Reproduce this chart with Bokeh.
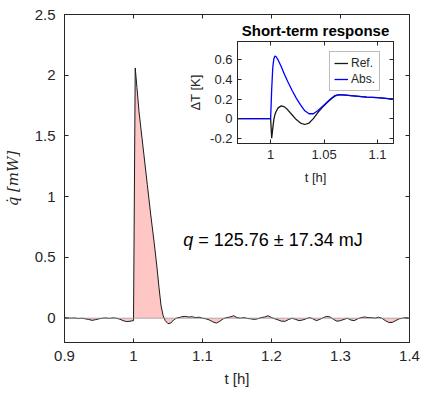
from bokeh.plotting import figure
from bokeh.models import (Range1d, LinearAxis, FixedTicker, Span, Label, Legend,
                          LegendItem, Column)
from bokeh.embed import file_html
from bokeh.resources import INLINE

# ---- main series: heat flow q_dot [mW] vs t [h]
t_main = [0.900, 0.905, 0.910, 0.915, 0.920, 0.925, 0.930, 0.935, 0.940, 0.945,
          0.950, 0.955, 0.960, 0.965, 0.970, 0.975, 0.980, 0.985, 0.990, 0.995,
          0.9995, 1.000, 1.0025, 1.005, 1.008, 1.011, 1.015, 1.020, 1.025, 1.030,
          1.034, 1.037, 1.040, 1.043, 1.046, 1.050, 1.054, 1.058, 1.062, 1.066,
          1.070, 1.075, 1.080, 1.085, 1.090, 1.095, 1.100, 1.105, 1.110, 1.115,
          1.120, 1.125, 1.130, 1.135, 1.140, 1.145, 1.150, 1.155, 1.160, 1.165,
          1.170, 1.175, 1.180, 1.185, 1.190, 1.195, 1.200, 1.205, 1.210, 1.215,
          1.220, 1.225, 1.230, 1.235, 1.240, 1.245, 1.250, 1.255, 1.260, 1.265,
          1.270, 1.275, 1.280, 1.285, 1.290, 1.295, 1.300, 1.305, 1.310, 1.315,
          1.320, 1.325, 1.330, 1.335, 1.340, 1.345, 1.350, 1.355, 1.360, 1.365,
          1.370, 1.375, 1.380, 1.385, 1.390, 1.395, 1.400]
q_main = [0.005, 0.003, 0.000, 0.002, -0.003, 0.000, -0.005, -0.010, -0.018, -0.012,
          -0.005, 0.000, 0.002, -0.002, 0.003, 0.000, -0.008, -0.020, -0.028, -0.025,
          -0.020, -0.020, 2.060, 1.900, 1.700, 1.550, 1.350, 1.100, 0.850, 0.620,
          0.420, 0.250, 0.100, 0.020, -0.020, -0.045, -0.040, -0.015, 0.000, 0.005,
          0.012, 0.015, 0.010, 0.012, 0.005, 0.008, 0.000, -0.005, -0.015, -0.030,
          -0.040, -0.025, -0.005, 0.005, 0.010, 0.020, 0.005, 0.000, 0.005, -0.002,
          -0.005, -0.010, -0.005, 0.005, 0.010, 0.020, 0.005, -0.005, -0.015, -0.025,
          -0.025, -0.010, 0.000, -0.010, -0.020, -0.015, -0.005, 0.005, -0.005, -0.020,
          -0.010, 0.005, 0.015, 0.010, -0.010, -0.025, -0.020, -0.010, 0.000, -0.015,
          -0.020, -0.005, 0.005, 0.010, 0.005, 0.005, 0.000, 0.008, 0.000, -0.020,
          -0.035, -0.035, -0.020, -0.005, 0.000, 0.005, 0.000]

# ---- inset series: delta T [K] vs t [h]
t_inset = [0.969, 0.980, 0.990, 0.999, 1.000, 1.001, 1.002, 1.003, 1.004, 1.005,
           1.007, 1.010, 1.013, 1.016, 1.020, 1.024, 1.028, 1.032, 1.036, 1.040,
           1.044, 1.048, 1.052, 1.056, 1.060, 1.064, 1.070, 1.080, 1.090, 1.100,
           1.110, 1.115]
dT_abs = [0.0, 0.0, 0.0, 0.0, 0.0, 0.30, 0.52, 0.61, 0.64, 0.635,
          0.60, 0.53, 0.45, 0.38, 0.29, 0.21, 0.14, 0.08, 0.05, 0.05,
          0.08, 0.12, 0.16, 0.20, 0.235, 0.245, 0.24, 0.23, 0.22, 0.215,
          0.205, 0.20]
dT_ref = [0.0, 0.0, 0.0, 0.0, 0.0, -0.20, -0.10, -0.01, 0.04, 0.07,
          0.11, 0.13, 0.12, 0.09, 0.04, -0.01, -0.045, -0.06, -0.045, 0.00,
          0.06, 0.11, 0.155, 0.195, 0.23, 0.245, 0.24, 0.23, 0.22, 0.215,
          0.205, 0.20]

main_xticks = [0.9, 1.0, 1.1, 1.2, 1.3, 1.4]
main_yticks = [0, 0.5, 1, 1.5, 2, 2.5]
inset_xticks = [1.0, 1.05, 1.1]
inset_yticks = [-0.2, 0, 0.2, 0.4, 0.6]
annotation_sym = "q"
annotation_rest = "= 125.76 ± 17.34 mJ"

TXT = "#262626"
FONT = "Liberation Sans"


def style_axis(ax, ticks, size):
    ax.ticker = FixedTicker(ticks=ticks)
    ax.major_tick_in = 4
    ax.major_tick_out = 0
    ax.minor_tick_line_color = None
    ax.axis_line_color = TXT
    ax.major_tick_line_color = TXT
    ax.major_label_text_color = TXT
    ax.major_label_text_font = FONT
    ax.major_label_text_font_size = size
    ax.axis_label_text_color = TXT
    ax.axis_label_text_font = FONT
    ax.axis_label_text_font_style = "normal"


def blank_axis(ax, ticks):
    style_axis(ax, ticks, "0px")
    ax.major_label_text_color = None
    ax.major_label_standoff = 0


# ================= main figure =================
p = figure(width=423, height=396, output_backend="svg", toolbar_location=None,
           x_range=Range1d(0.9, 1.4), y_range=Range1d(-0.2, 2.5),
           min_border_left=64, min_border_right=14, min_border_top=14,
           min_border_bottom=54)
p.grid.visible = False
p.outline_line_color = TXT
p.background_fill_color = "white"

p.varea(x=t_main, y1=0, y2=q_main, fill_color="#FFC6C6", fill_alpha=1.0)
p.add_layout(Span(location=0, dimension="width", line_color="#9a9a9a",
                  line_width=0.8))
p.line(t_main, q_main, line_color="#1a1a1a", line_width=1.0)

style_axis(p.xaxis[0], main_xticks, "15px")
style_axis(p.yaxis[0], main_yticks, "15px")
p.xaxis[0].major_label_overrides = {0.9: "0.9", 1.0: "1", 1.1: "1.1", 1.2: "1.2",
                                    1.3: "1.3", 1.4: "1.4"}
p.yaxis[0].major_label_overrides = {0: "0", 0.5: "0.5", 1: "1", 1.5: "1.5",
                                    2: "2", 2.5: "2.5"}
p.xaxis[0].axis_label = "t [h]"
p.xaxis[0].axis_label_text_font_size = "15px"
p.xaxis[0].major_label_standoff = 8
p.xaxis[0].axis_label_standoff = 6
p.yaxis[0].axis_label = "q̇ [mW]"
p.yaxis[0].axis_label_text_font = "DejaVu Serif"
p.yaxis[0].axis_label_text_font_style = "italic"
p.yaxis[0].axis_label_text_font_size = "15px"
p.yaxis[0].major_label_standoff = 9
p.yaxis[0].axis_label_standoff = 10

ax_r = LinearAxis()
blank_axis(ax_r, main_yticks)
p.add_layout(ax_r, "right")
ax_t = LinearAxis()
blank_axis(ax_t, main_xticks)
p.add_layout(ax_t, "above")

p.add_layout(Label(x=1.072, y=0.645, text=annotation_sym, text_font=FONT,
                   text_font_style="italic", text_font_size="18px",
                   text_color="black", text_baseline="middle"))
p.add_layout(Label(x=1.072, y=0.645, x_offset=15, text=annotation_rest,
                   text_font=FONT, text_font_size="18px", text_color="black",
                   text_baseline="middle"))

# ================= inset figure =================
ins = figure(frame_width=156, frame_height=102, output_backend="svg",
             toolbar_location=None,
             x_range=Range1d(0.969, 1.115), y_range=Range1d(-0.254, 0.788),
             min_border_left=60, min_border_right=10, min_border_top=31,
             min_border_bottom=45, title="Short-term response")
ins.title.text_font = FONT
ins.title.text_font_size = "15px"
ins.title.text_font_style = "bold"
ins.title.text_color = "black"
ins.title.align = "center"
ins.title.standoff = 6
ins.grid.visible = False
ins.outline_line_color = TXT
ins.border_fill_alpha = 0.0
ins.background_fill_color = "white"

r_ref = ins.line(t_inset, dT_ref, line_color="#1a1a1a", line_width=1.3)
r_abs = ins.line(t_inset, dT_abs, line_color="#0000FF", line_width=1.3)

style_axis(ins.xaxis[0], inset_xticks, "13px")
style_axis(ins.yaxis[0], inset_yticks, "13px")
ins.xaxis[0].major_label_overrides = {1.0: "1", 1.05: "1.05", 1.1: "1.1"}
ins.yaxis[0].major_label_overrides = {-0.2: "-0.2", 0: "0", 0.2: "0.2",
                                      0.4: "0.4", 0.6: "0.6"}
ins.xaxis[0].axis_label = "t [h]"
ins.xaxis[0].axis_label_text_font_size = "13px"
ins.xaxis[0].major_label_standoff = 6
ins.xaxis[0].axis_label_standoff = 8
ins.yaxis[0].axis_label = "ΔT [K]"
ins.yaxis[0].axis_label_text_font_size = "13px"
ins.yaxis[0].major_label_standoff = 5
ins.yaxis[0].axis_label_standoff = 4

ia_r = LinearAxis()
blank_axis(ia_r, inset_yticks)
ins.add_layout(ia_r, "right")
ia_t = LinearAxis()
blank_axis(ia_t, inset_xticks)
ins.add_layout(ia_t, "above")

leg = Legend(items=[LegendItem(label="Ref.", renderers=[r_ref]),
                    LegendItem(label="Abs.", renderers=[r_abs])],
             location=(92, 52), label_text_font=FONT, label_text_font_size="12px",
             label_text_color=TXT, glyph_width=14, glyph_height=12,
             label_height=14, padding=4, spacing=2, margin=0,
             border_line_color="#7a7a7a", background_fill_alpha=1.0,
             label_standoff=3)
ins.add_layout(leg)

ins.styles = {"position": "absolute", "left": "173px", "top": "10px"}

layout = Column(children=[p, ins])
open("out.html", "w").write(file_html(layout, INLINE))
